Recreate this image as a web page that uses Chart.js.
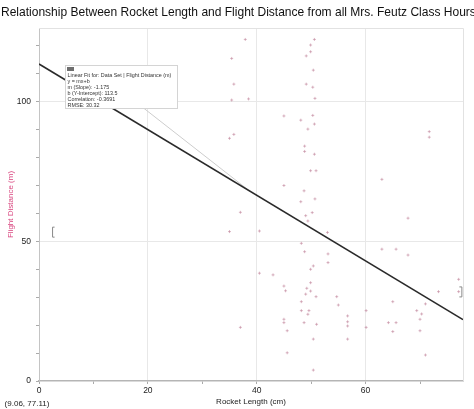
<!DOCTYPE html>
<html><head><meta charset="utf-8">
<script src="https://cdn.jsdelivr.net/npm/chart.js@4/dist/chart.umd.min.js"></script>
<style>html,body{margin:0;padding:0;background:#fff}#wrap{width:474px;height:409px;position:relative}</style>
</head><body><div id="wrap"><canvas id="c" width="474" height="409"></canvas></div>
<script>
// ---- data ----
const chartTitle = "Relationship Between Rocket Length and Flight Distance from all Mrs. Feutz Class Hours";
const xAxisTitle = "Rocket Length (cm)";
const yAxisTitle = "Flight Distance (m)";
const rocketLength = [
  37.9,35.4,35.8,35.4,38.5,35.8,35.0,37.0,35.0,40.5,40.5,43.0,37.0,
  50.6,49.9,49.9,49.1,50.4,49.1,50.3,50.7,45.0,48.1,50.3,50.6,49.4,48.8,48.8,50.6,49.9,50.9,
  45.0,48.7,50.7,48.1,50.2,49.0,49.4,53.0,48.2,48.8,53.1,53.1,50.4,49.9,49.9,45.0,45.3,49.2,
  49.9,49.0,50.9,54.7,55.0,48.2,48.2,49.6,49.4,56.7,56.7,56.7,60.1,60.1,45.0,45.0,48.7,51.0,
  45.6,50.4,56.7,45.6,50.4,
  71.7,71.7,63.0,67.8,63.0,65.6,67.8,77.1,73.4,77.1,65.0,71.0,69.4,70.3,70.0,64.2,65.6,65.0,70.0,71.0
];
const flightDistance = [
  122.3,115.5,106.3,100.6,101.0,88.3,86.9,60.4,53.5,53.7,38.6,38.0,19.2,
  122.3,120.3,117.9,116.4,111.3,106.3,105.2,101.2,94.9,93.4,95.1,92.0,90.2,84.1,82.2,81.2,75.3,75.3,
  70.0,68.1,65.2,64.2,60.3,59.2,57.3,53.2,49.3,46.3,45.5,42.4,41.2,40.0,35.2,34.0,32.3,33.2,
  32.2,31.1,30.2,30.2,27.2,28.4,25.2,25.2,23.9,23.3,21.2,19.7,25.2,19.2,22.1,20.9,20.9,20.3,
  18.0,15.0,15.0,10.1,3.9,
  89.3,87.3,72.2,58.3,47.2,47.2,45.1,36.4,32.0,32.0,28.4,27.6,25.2,24.0,22.1,20.9,20.9,17.7,18.0,9.3
];
const xTickLabels = [0, 20, 40, 60];
const yTickLabels = [0, 50, 100];
const xMin = 0, xMax = 77.9, yMin = 0, yMax = 126.4;
const fitSlope = -1.175, fitIntercept = 113.5, fitCorrelation = -0.3691, fitRMSE = 30.32;
const fitBoxLines = [
  "Linear Fit for: Data Set | Flight Distance (m)",
  "y = mx+b",
  "m (Slope): " + fitSlope,
  "b (Y-Intercept): " + fitIntercept,
  "Correlation: " + fitCorrelation,
  "RMSE: " + fitRMSE
];
const leaderStart = {x: 19.1, y: 97.9};
const leaderEndX = 38.7;
const bracketLeft = {x: 2.4, y: 53.3};
const bracketRight = {x: 77.6, y: 31.9};
const cursorReadout = "(9.06, 77.11)";

// ---- build ----
const FONT = "'Liberation Sans', Arial, sans-serif";
const fitY = x => fitIntercept + fitSlope * x;
const points = rocketLength.map((x, i) => ({x, y: flightDistance[i]}));

const overlay = {
  id: 'overlay',
  afterDraw(chart) {
    const {ctx, chartArea: a, scales: {x, y}} = chart;
    ctx.save();
    ctx.strokeStyle = '#e2e2e2'; ctx.lineWidth = 1;
    ctx.beginPath();
    ctx.moveTo(a.left, a.top + 0.5); ctx.lineTo(a.right + 0.5, a.top + 0.5); ctx.lineTo(a.right + 0.5, a.bottom);
    ctx.stroke();
    // title
    ctx.fillStyle = '#111';
    let fs = 13;
    ctx.font = fs + 'px ' + FONT;
    const w = ctx.measureText(chartTitle).width;
    fs = fs * 475 / w;
    ctx.font = fs.toFixed(2) + 'px ' + FONT;
    ctx.textBaseline = 'alphabetic'; ctx.textAlign = 'left';
    ctx.fillText(chartTitle, 1, 16);
    // brackets
    ctx.strokeStyle = '#888'; ctx.lineWidth = 1;
    const bl = {px: x.getPixelForValue(bracketLeft.x), py: y.getPixelForValue(bracketLeft.y)};
    ctx.beginPath();
    ctx.moveTo(bl.px + 2.5, bl.py - 5); ctx.lineTo(bl.px + 0.5, bl.py - 5); ctx.lineTo(bl.px + 0.5, bl.py + 5); ctx.lineTo(bl.px + 2.5, bl.py + 5);
    ctx.stroke();
    const br = {px: x.getPixelForValue(bracketRight.x), py: y.getPixelForValue(bracketRight.y)};
    ctx.beginPath();
    ctx.moveTo(br.px - 2, br.py - 5); ctx.lineTo(br.px + 0.5, br.py - 5); ctx.lineTo(br.px + 0.5, br.py + 5); ctx.lineTo(br.px - 2, br.py + 5);
    ctx.stroke();
    // fit box
    const bx = a.left + 26, by = a.top + 37, bw = 112, bh = 43;
    ctx.fillStyle = '#fff'; ctx.fillRect(bx, by, bw, bh);
    ctx.strokeStyle = '#d4d4d4'; ctx.strokeRect(bx + 0.5, by + 0.5, bw, bh);
    ctx.fillStyle = '#6e6e6e'; ctx.fillRect(bx + 2, by + 2, 7, 4);
    ctx.fillStyle = '#333';
    ctx.font = '5.4px ' + FONT;
    fitBoxLines.forEach((t, i) => ctx.fillText(t, bx + 2.5, by + 12 + i * 6));
    // readout
    ctx.fillStyle = '#222';
    ctx.font = '8px ' + FONT;
    ctx.textAlign = 'center';
    ctx.fillText(cursorReadout, 27, 406);
    ctx.restore();
  }
};

new Chart(document.getElementById('c'), {
  type: 'scatter',
  data: {
    datasets: [
      {
        type: 'line', data: [leaderStart, {x: leaderEndX, y: fitY(leaderEndX)}],
        borderColor: '#cdcdcd', borderWidth: 1, pointRadius: 0, fill: false, order: 3
      },
      {
        data: points, pointStyle: 'cross', pointRadius: 1.5, pointHoverRadius: 1.5,
        borderColor: 'rgba(190,125,150,0.55)', backgroundColor: 'rgba(190,125,150,0.55)', borderWidth: 1, order: 2
      },
      {
        type: 'line', data: [{x: xMin, y: fitY(xMin)}, {x: xMax, y: fitY(xMax)}],
        borderColor: '#2a2a2a', borderWidth: 1.6, pointRadius: 0, fill: false, order: 1
      }
    ]
  },
  options: {
    responsive: false, animation: false, events: [],
    layout: {padding: {top: 28, right: 11, left: 0, bottom: 0}},
    plugins: {legend: {display: false}, title: {display: false}, tooltip: {enabled: false}},
    scales: {
      x: {
        type: 'linear', min: xMin, max: xMax,
        afterFit: s => { s.height = 28; },
        ticks: {
          stepSize: 10, includeBounds: false, autoSkip: false, maxRotation: 0, padding: 2,
          color: '#222', font: {family: FONT, size: 8.5},
          callback: v => xTickLabels.includes(v) ? String(v) : ''
        },
        grid: {
          color: c => (c.tick && xTickLabels.includes(c.tick.value) && c.tick.value !== xMin) ? '#e8e8e8' : 'rgba(0,0,0,0)',
          tickColor: '#aaa', tickLength: 3, lineWidth: 1
        },
        border: {color: '#b5b5b5', width: 1.5},
        title: {display: true, text: xAxisTitle, color: '#222', font: {family: FONT, size: 8}, padding: {top: 0, bottom: 2}}
      },
      y: {
        type: 'linear', min: yMin, max: yMax,
        afterFit: s => { s.width = 39; },
        ticks: {
          stepSize: 10, includeBounds: false, autoSkip: false, padding: 5,
          color: '#222', font: {family: FONT, size: 8.5},
          callback: v => yTickLabels.includes(v) ? String(v) : ''
        },
        grid: {
          color: c => (c.tick && yTickLabels.includes(c.tick.value) && c.tick.value !== yMin) ? '#e8e8e8' : 'rgba(0,0,0,0)',
          tickColor: '#aaa', tickLength: 3, lineWidth: 1
        },
        border: {color: '#c4c4c4', width: 1},
        title: {display: true, text: yAxisTitle, color: '#d9467f', font: {family: FONT, size: 8}, padding: {top: 6, bottom: 0}}
      }
    }
  },
  plugins: [overlay]
});
</script>
</body></html>
